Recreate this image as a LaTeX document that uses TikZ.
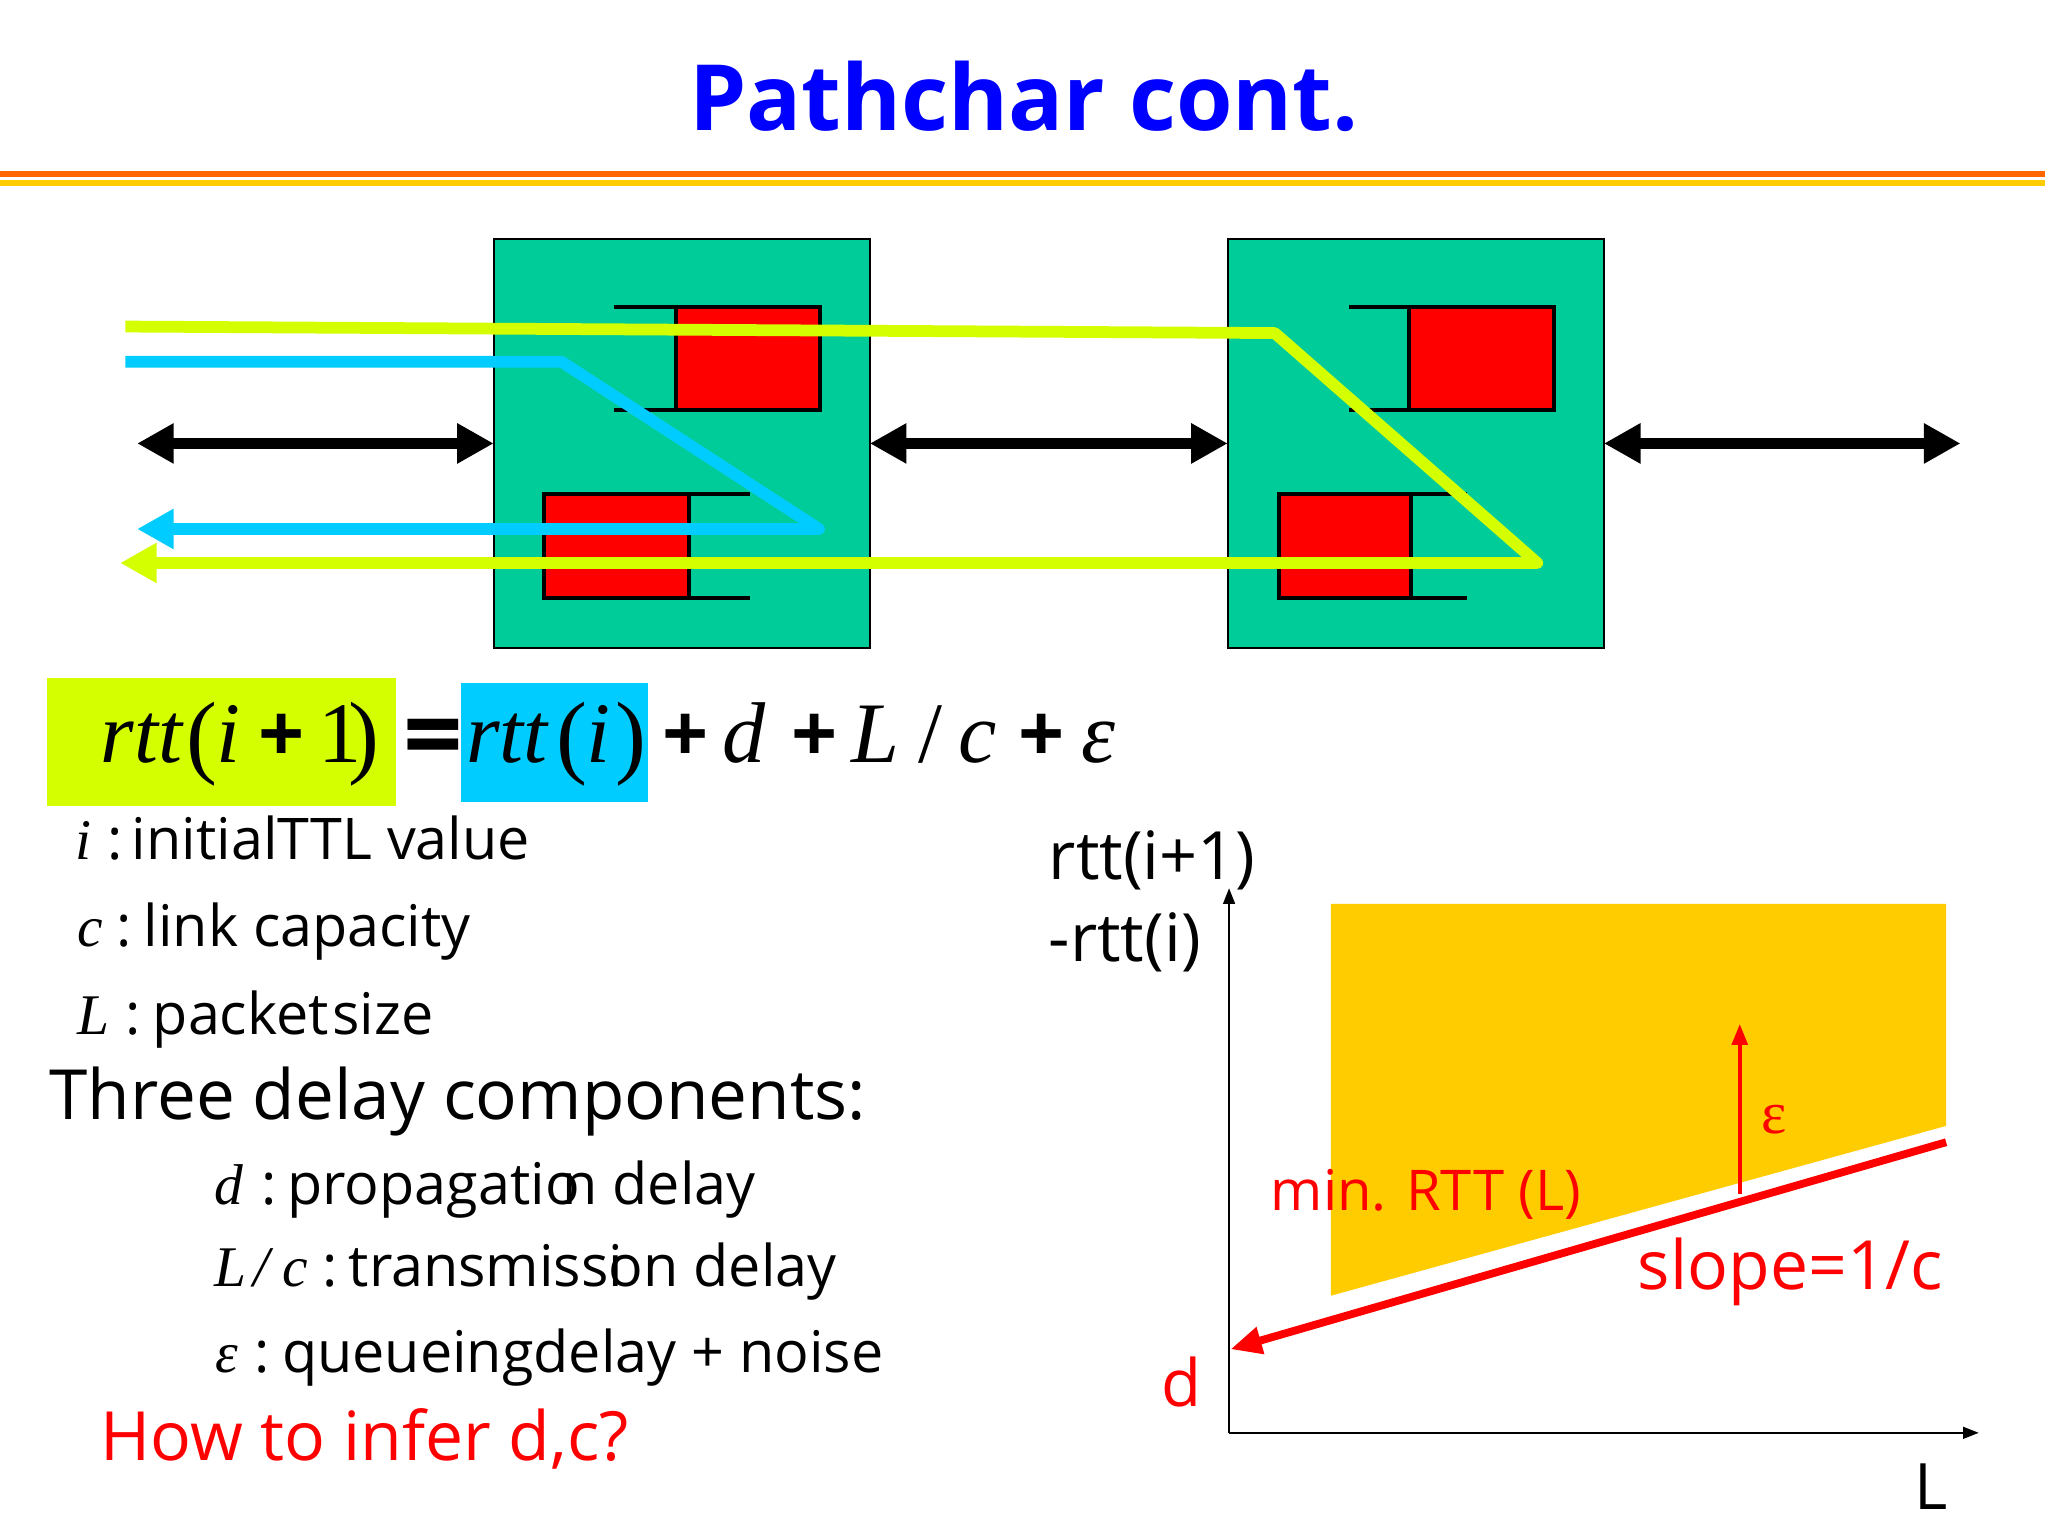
\documentclass[tikz,border=0pt]{standalone}
\usepackage{fontspec}
\setmainfont{Open Sans}
\newfontfamily\tnr{Liberation Serif}
\usetikzlibrary{arrows.meta}
\definecolor{boxgreen}{HTML}{00CC99}
\definecolor{lime}{HTML}{D4FF00}
\definecolor{sky}{HTML}{00CCFF}
\definecolor{qred}{HTML}{FF0000}
\definecolor{titleblue}{HTML}{0000FF}
\definecolor{barorange}{HTML}{FF6600}
\definecolor{baryellow}{HTML}{FFCC00}
\newcommand\fsz[1]{\fontsize{#1}{#1}\selectfont}
\begin{document}
\begin{tikzpicture}[x=1pt,y=-1pt,
  txt/.style={anchor=base west, inner sep=0pt, outer sep=0pt},
  router/.style={draw=black, line width=1.2pt, fill=boxgreen, minimum width=288pt, minimum height=313pt, inner sep=0pt, outer sep=0pt},
  qline/.style={draw=black, line width=3pt},
  biarrow/.style={line width=8pt, {Triangle[length=28pt,width=29pt]}-{Triangle[length=28pt,width=29pt]}},
  probe/.style={line width=9pt, line join=round, -{Triangle[length=28pt,width=29pt]}},
  eq/.style={txt, font=\tnr\fsz{66}},
  par/.style={txt, font=\tnr\fsz{71}},
  eqop/.style={txt, font=\bfseries\fsz{62}},
  lst/.style={txt, font=\fsz{44}},
  var/.style={txt, font=\tnr\itshape\fsz{44}},
  axis/.style={line width=1.5pt, -{Triangle[length=12pt,width=9pt]}}
]
\useasboundingbox (0,0) rectangle (1568,1176);
\fill[white] (0,0) rectangle (1568,1176);

% title and bars
\node[anchor=base, inner sep=0pt, text=titleblue] (title) at (784,100) {\bfseries\fsz{70}Pathchar cont.};
\fill[barorange] (0,130.7) rectangle (1566,135.3);
\fill[baryellow] (0,137.8) rectangle (1566,142.2);

% routers
\node[router] (r1) at (522,339.5) {};
\node[router] (r2) at (1084,339.5) {};

% queues router 1
\fill[qred] (517.5,235) rectangle (627.5,314);
\draw[qline] (470,235) -- (627.5,235) -- (627.5,314) -- (470,314);
\draw[qline] (517.5,235) -- (517.5,314);
\fill[qred] (416.5,378) rectangle (527.5,458);
\draw[qline] (574,378) -- (416.5,378) -- (416.5,458) -- (574,458);
\draw[qline] (527.5,378) -- (527.5,458);
% queues router 2
\fill[qred] (1079,235) rectangle (1189.5,314);
\draw[qline] (1032.5,235) -- (1189.5,235) -- (1189.5,314) -- (1032.5,314);
\draw[qline] (1079,235) -- (1079,314);
\fill[qred] (979,378) rectangle (1080.5,458);
\draw[qline] (1123,378) -- (979,378) -- (979,458) -- (1123,458);
\draw[qline] (1080.5,378) -- (1080.5,458);

% links
\coordinate (lend) at (105,339.5);
\coordinate (rend) at (1501,339.5);
\draw[biarrow] (lend) -- (r1.west);
\draw[biarrow] (r1.east) -- (r2.west);
\draw[biarrow] (r2.east) -- (rend);

% probes
\coordinate (g0) at (96,250);
\coordinate (g1) at (976,255);
\coordinate (g2) at (1177,431);
\coordinate (g3) at (92,431);
\draw[probe, lime] (g0) -- (g1) -- (g2) -- (g3);
\coordinate (b0) at (96,277);
\coordinate (b1) at (430,277);
\coordinate (b2) at (627,405);
\coordinate (b3) at (105,405);
\draw[probe, sky] (b0) -- (b1) -- (b2) -- (b3);

% equation
\fill[lime] (36,519) rectangle (303,617);
\fill[sky] (353,523) rectangle (496,614);
\node[eq] (e1) at (77,584) {\itshape rtt};
\node[par] (e2) at (143,587) {(};
\node[eq] (e3) at (166,584) {\itshape i};
\node[eqop] (e4) at (198,584) {+};
\node[eq] (e5) at (244,584) {1};
\node[par] (e6) at (267,587) {)};
\node[eqop, font=\bfseries\fsz{80}] (e7) at (309,591) {=};
\node[eq] (e8) at (357,584) {\itshape rtt};
\node[par] (e9) at (426,587) {(};
\node[eq] (e10) at (449,584) {\itshape i};
\node[par] (e11) at (471,587) {)};
\node[eqop] (e12) at (507,584) {+};
\node[eq] (e13) at (553,584) {\itshape d};
\node[eqop] (e14) at (606,584) {+};
\node[eq] (e15) at (652,584) {\itshape L};
\node[eq] (e16) at (703,584) {/};
\node[eq] (e17) at (734,584) {\itshape c};
\node[eqop] (e18) at (780,584) {+};
\node[eq] (e19) at (828,584) {\itshape ε};

% definitions
\node[var] (vi) at (58,658) {i};
\node[lst] (vic) at (82,658) {:};
\node[lst] (vit) at (101,658) {initialTTL value};
\node[var] (vc) at (59,725) {c};
\node[lst] (vcc) at (89,725) {:};
\node[lst] (vct) at (110,725) {link capacity};
\node[var] (vl) at (59,792) {L};
\node[lst] (vlc) at (96,792) {:};
\node[lst] (vlt) at (117,792) {packet\hspace{0.06em}size};
\node[txt, font=\fsz{53}] (three) at (38,857) {Three delay components:};
\node[var] (vd) at (164,922) {d};
\node[lst] (vdc) at (200,922) {:};
\node[lst] (vdt) at (220,922) {propagatio\kern-0.3em n delay};
\node[var] (vlc1) at (164,985) {L};
\node[var] (vlc2) at (194,985) {/};
\node[var] (vlc3) at (216,985) {c};
\node[lst] (vlcc) at (247,985) {:};
\node[lst] (vlct) at (267,985) {transmiss\rlap{i}on delay};
\node[var] (ve) at (165,1051) {ε};
\node[lst] (vec) at (195,1051) {:};
\node[lst] (vet) at (216,1051) {queueingdelay + noise};
\node[txt, font=\fsz{52}, text=qred] (how) at (77,1118) {How to infer d,c?};

% graph
\fill[baryellow] (1019,692) -- (1490,692) -- (1490,862) -- (1019,992) -- cycle;
\coordinate (o) at (941,1097);
\coordinate (xend) at (1515,1097);
\coordinate (yend) at (941,680);
\draw[axis] (o) -- (xend);
\draw[axis] (o) -- (yend);
\coordinate (m0) at (1490,874.5);
\coordinate (m1) at (942,1033);
\draw[qred, line width=6pt, -{Triangle[length=24pt,width=20pt]}] (m0) -- (m1);
\coordinate (eps0) at (1332,914);
\coordinate (eps1) at (1332,784);
\draw[qred, line width=3pt, -{Triangle[length=16pt,width=12pt]}] (eps0) -- (eps1);
\node[txt, font=\fsz{51}] (ylab1) at (803,673) {rtt(i+1)};
\node[txt, font=\fsz{51}] (ylab2) at (803,736) {-rtt(i)};
\node[txt, font=\fsz{50}, text=qred] (dlab) at (889,1077) {d};
\node[txt, font=\fsz{49}] (xlab) at (1466,1156) {L};
\node[txt, font=\fsz{43}, text=qred] (minrtt) at (973,927) {min. RTT (L)};
\node[txt, font=\fsz{52}, text=qred] (slope) at (1254,987) {slope=1/c};
\node[txt, font=\tnr\fsz{46}, text=qred] (epslab) at (1349,868) {ε};
\end{tikzpicture}
\end{document}
